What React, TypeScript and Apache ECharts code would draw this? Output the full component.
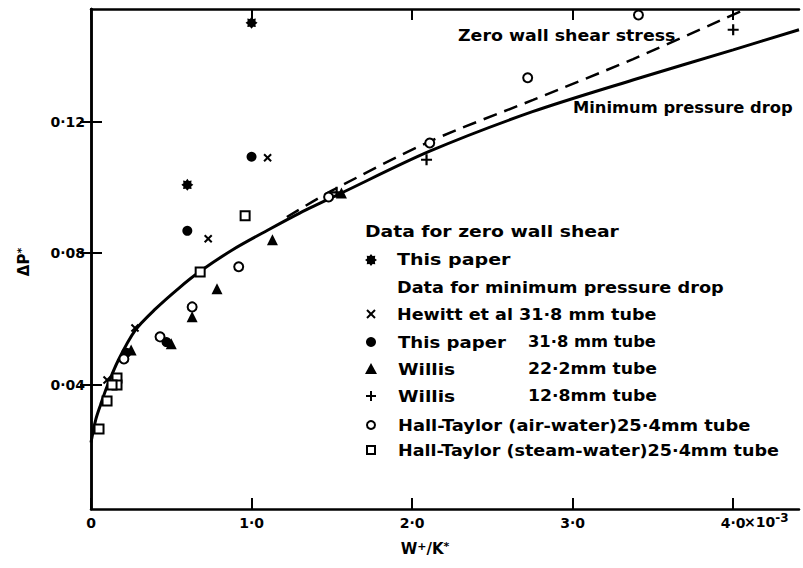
import React, { useEffect, useRef } from "react";
import * as echarts from "echarts";

// ---------- data (x in units of 10^-3, y = ΔP*) ----------
const zeroShearThisPaper: number[][] = [[1.0, 0.150], [0.60, 0.1008]];
const hewitt318: number[][] = [[1.10, 0.109], [0.73, 0.0844], [0.274, 0.0573], [0.10, 0.0415]];
const thisPaper318: number[][] = [[1.0, 0.1093], [0.60, 0.0868], [0.47, 0.0530], [0.22, 0.0498]];
const willis222: number[][] = [[1.13, 0.0841], [0.785, 0.0692], [0.63, 0.0607], [0.50, 0.0525], [0.25, 0.0506], [1.56, 0.0983]];
const willis128: number[][] = [[4.0, 0.1479], [2.09, 0.1084], [1.53, 0.0985]];
const hallAir: number[][] = [[3.41, 0.1524], [2.72, 0.1333], [2.11, 0.1135], [1.48, 0.0971], [0.92, 0.0759], [0.63, 0.0637], [0.43, 0.0546], [0.205, 0.0479]];
const hallSteam: number[][] = [[0.96, 0.0914], [0.68, 0.0743], [0.162, 0.0421], [0.162, 0.0400], [0.131, 0.0400], [0.10, 0.0351], [0.05, 0.0266]];

const minDropX = [0, 0.03, 0.06, 0.10, 0.17, 0.274, 0.40, 0.55, 0.68, 0.88, 1.10, 1.30, 1.56, 2.11, 2.75, 3.38, 4.0, 4.41];
const minDropY = [0.0225, 0.0295, 0.0340, 0.0395, 0.0475, 0.0565, 0.0630, 0.0695, 0.0745, 0.0810, 0.0870, 0.0922, 0.0983, 0.1110, 0.1230, 0.1327, 0.1418, 0.1479];
const zeroShearX = [1.22, 1.5, 2.112, 2.754, 3.377, 4.08];
const zeroShearY = [0.0910, 0.0990, 0.1140, 0.1266, 0.1390, 0.1542];

const xTicks = [0, 1, 2, 3, 4];
const yTicks = [0.04, 0.08, 0.12];

const FONT = "'DejaVu Sans', sans-serif";
const FS = 14;

const starPath = (() => {
  const pts: string[] = [];
  for (let i = 0; i < 16; i++) {
    const a = (i * Math.PI) / 8;
    const r = i % 2 === 0 ? 10 : 7;
    pts.push(`${(10 + r * Math.sin(a)).toFixed(2)},${(10 - r * Math.cos(a)).toFixed(2)}`);
  }
  return "path://M" + pts.join("L") + "Z";
})();
const plusPath = "path://M4,0H6V4H10V6H6V10H4V6H0V4H4Z";

function starPoints(cx: number, cy: number, R: number) {
  const pts: number[][] = [];
  for (let i = 0; i < 16; i++) {
    const a = (i * Math.PI) / 8;
    const r = i % 2 === 0 ? R : R * 0.7;
    pts.push([cx + r * Math.sin(a), cy - r * Math.cos(a)]);
  }
  return pts;
}

const zip = (xs: number[], ys: number[]) => xs.map((x, i) => [x, ys[i]]);

export default function App() {
  const ref = useRef<HTMLDivElement>(null);
  useEffect(() => {
    if (!ref.current) return;
    const chart = echarts.init(ref.current, undefined, { renderer: "svg" });
    const black = "#000";
    // f = width factor relative to 15px DejaVu Sans Bold
    const txt = (text: string, x: number, y: number, f = 1.17) => ({
      type: "text",
      x, y, scaleX: f / (16 / 15), scaleY: 1,
      style: {
        text, x: 0, y: 0, fill: black, fontSize: 16, fontWeight: "bold", fontFamily: FONT,
        textVerticalAlign: "middle", verticalAlign: "middle",
      },
    });
    const lx = 371;
    const legendY = { star: 260, x: 314, dot: 342, tri: 369, plus: 396, circ: 425, sq: 450 };
    const graphic: any[] = [
      txt("Zero wall shear stress", 458, 35, 1.16),
      txt("Minimum pressure drop", 573, 108, 1.09),
      txt("Data for zero wall shear", 365, 231, 1.25),
      { type: "polygon", shape: { points: starPoints(lx, legendY.star, 6) }, style: { fill: black } },
      txt("This paper", 397, legendY.star, 1.27),
      txt("Data for minimum pressure drop", 397, 287, 1.18),
      { type: "line", shape: { x1: lx - 4, y1: legendY.x - 4, x2: lx + 4, y2: legendY.x + 4 }, style: { stroke: black, lineWidth: 2 } },
      { type: "line", shape: { x1: lx - 4, y1: legendY.x + 4, x2: lx + 4, y2: legendY.x - 4 }, style: { stroke: black, lineWidth: 2 } },
      txt("Hewitt et al 31·8 mm tube", 397, legendY.x, 1.17),
      { type: "circle", shape: { cx: lx, cy: legendY.dot, r: 5 }, style: { fill: black } },
      txt("This paper", 398, legendY.dot, 1.21),
      txt("31·8 mm tube", 528, legendY.dot, 1.09),
      { type: "polygon", shape: { points: [[lx, legendY.tri - 6], [lx + 6, legendY.tri + 5], [lx - 6, legendY.tri + 5]] }, style: { fill: black } },
      txt("Willis", 398, legendY.tri, 1.24),
      txt("22·2mm tube", 528, legendY.tri, 1.15),
      { type: "line", shape: { x1: lx - 5, y1: legendY.plus, x2: lx + 5, y2: legendY.plus }, style: { stroke: black, lineWidth: 2 } },
      { type: "line", shape: { x1: lx, y1: legendY.plus - 5, x2: lx, y2: legendY.plus + 5 }, style: { stroke: black, lineWidth: 2 } },
      txt("Willis", 398, legendY.plus, 1.24),
      txt("12·8mm tube", 528, legendY.plus, 1.15),
      { type: "circle", shape: { cx: lx, cy: legendY.circ, r: 4 }, style: { fill: "#fff", stroke: black, lineWidth: 2 } },
      txt("Hall-Taylor (air-water)25·4mm tube", 398, legendY.circ, 1.19),
      { type: "rect", shape: { x: lx - 4, y: legendY.sq - 4, width: 8, height: 8 }, style: { fill: "#fff", stroke: black, lineWidth: 2 } },
      txt("Hall-Taylor (steam-water)25·4mm tube", 398, legendY.sq, 1.17),
      // exponent after last tick label
      {
        type: "text",
        style: {
          text: "{a|×10}{b|-3}", x: 744, y: 522, fill: black, textVerticalAlign: "middle", verticalAlign: "middle",
          rich: {
            a: { fontSize: FS, fontWeight: "bold", fontFamily: FONT, fill: black, color: black },
            b: { fontSize: 12, fontWeight: "bold", fontFamily: FONT, fill: black, color: black, verticalAlign: "top", padding: [0, 0, 8, 0] },
          },
        },
      },
      // axis titles
      {
        type: "text",
        style: {
          text: "{a|W}{b|+}{a|/K}{b|*}", x: 425, y: 549, fill: black, textAlign: "center", align: "center",
          textVerticalAlign: "middle", verticalAlign: "middle",
          rich: {
            a: { fontSize: 15, fontWeight: "bold", fontFamily: FONT, fill: black, color: black },
            b: { fontSize: 11, fontWeight: "bold", fontFamily: FONT, fill: black, color: black, verticalAlign: "top", padding: [0, 0, 6, 0] },
          },
        },
      },
      {
        type: "text",
        x: 24, y: 262, rotation: Math.PI / 2,
        style: {
          text: "{a|ΔP}{b|*}", x: 0, y: 0, fill: black, textAlign: "center", align: "center",
          textVerticalAlign: "middle", verticalAlign: "middle",
          rich: {
            a: { fontSize: 15, fontWeight: "bold", fontFamily: FONT, fill: black, color: black },
            b: { fontSize: 11, fontWeight: "bold", fontFamily: FONT, fill: black, color: black, verticalAlign: "top", padding: [0, 0, 6, 0] },
          },
        },
      },
    ];

    const axisLine = { show: true, lineStyle: { color: black, width: 2.5 } };
    const tick = (vals: number[]) => ({ show: true, inside: true, length: 11, customValues: vals, lineStyle: { color: black, width: 2 } });
    const labelStyle = { color: black, fontSize: FS, fontWeight: "bold", fontFamily: FONT };

    const scatter = (data: number[][], symbol: string, size: number, hollow = false, rotate = 0) => ({
      type: "scatter", data, symbol, symbolSize: size, symbolRotate: rotate, z: 5,
      itemStyle: hollow
        ? { color: "#fff", borderColor: black, borderWidth: 2, opacity: 1 }
        : { color: black, opacity: 1 },
      emphasis: { disabled: true },
    });

    chart.setOption({
      animation: false,
      backgroundColor: "#fff",
      grid: { left: 91, right: 4, top: 9, bottom: 59, containLabel: false },
      xAxis: [
        {
          type: "value", min: 0, max: 4.41, position: "bottom", axisLine, axisTick: tick(xTicks), splitLine: { show: false },
          axisLabel: {
            ...labelStyle, margin: 7, customValues: xTicks,
            formatter: (v: number) => (v === 0 ? "0" : v.toFixed(1).replace(".", "·")),
          },
        },
        {
          type: "value", min: 0, max: 4.41, position: "top", axisLine, axisTick: tick(xTicks), splitLine: { show: false },
          axisLabel: { show: false },
        },
      ],
      yAxis: [
        {
          type: "value", min: 0.0023, max: 0.1542, position: "left", axisLine, axisTick: tick(yTicks), splitLine: { show: false },
          axisLabel: {
            ...labelStyle, margin: 6, customValues: yTicks,
            formatter: (v: number) => v.toFixed(2).replace(".", "·"),
          },
        },
        {
          type: "value", min: 0.0023, max: 0.1542, position: "right", axisLine, axisTick: tick(yTicks), splitLine: { show: false },
          axisLabel: { show: false },
        },
      ],
      series: [
        {
          type: "line", data: zip(minDropX, minDropY), smooth: 0.3, symbol: "none",
          lineStyle: { color: black, width: 3 }, z: 3,
        },
        {
          type: "line", data: zip(zeroShearX, zeroShearY), smooth: 0.3, symbol: "none",
          lineStyle: { color: black, width: 2.5, type: [14, 8] }, z: 3,
        },
        scatter(zeroShearThisPaper, starPath, 12),
        scatter(hewitt318, plusPath, 10, false, 45),
        scatter(thisPaper318, "circle", 10),
        scatter(willis222, "triangle", 11),
        scatter(willis128, plusPath, 11),
        scatter(hallAir, "circle", 9, true),
        scatter(hallSteam, "rect", 9, true),
      ],
      graphic,
    });
    return () => chart.dispose();
  }, []);
  return <div ref={ref} style={{ width: 803, height: 568, position: "absolute", left: 0, top: 0 }} />;
}
